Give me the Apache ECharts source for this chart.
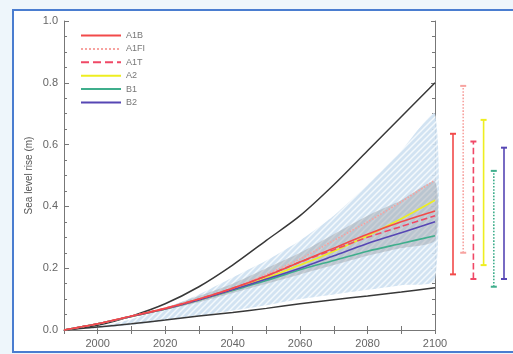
<!DOCTYPE html>
<html><head><meta charset="utf-8">
<script src="https://cdn.jsdelivr.net/npm/echarts@6/dist/echarts.min.js"></script>
<style>html,body{margin:0;padding:0;background:#eef6fb}#c{width:513px;height:354px}</style>
</head><body><div id="c"></div>
<script>
var years = [1990, 2000, 2010, 2020, 2030, 2040, 2050, 2060, 2070, 2080, 2090, 2100];
var outerHigh = [0, 0.015, 0.045, 0.085, 0.14, 0.21, 0.29, 0.37, 0.47, 0.58, 0.69, 0.80];
var outerLow  = [0, 0.01, 0.02, 0.032, 0.045, 0.057, 0.07, 0.085, 0.098, 0.11, 0.123, 0.137];
var blueHigh  = [0, 0.01, 0.035, 0.07, 0.115, 0.17, 0.225, 0.29, 0.37, 0.47, 0.58, 0.70];
var blueLow   = [0, 0.006, 0.016, 0.03, 0.045, 0.063, 0.08, 0.1, 0.115, 0.13, 0.145, 0.16];
var greyHigh  = [0, 0.021, 0.047, 0.073, 0.11, 0.15, 0.2, 0.25, 0.31, 0.37, 0.42, 0.48];
var greyLow   = [0, 0.019, 0.042, 0.065, 0.09, 0.12, 0.15, 0.18, 0.21, 0.24, 0.265, 0.29];

var scenarios = ['A1B', 'A1FI', 'A1T', 'A2', 'B1', 'B2'];
var sA1B  = [0, 0.02, 0.045, 0.07, 0.1, 0.135, 0.175, 0.22, 0.265, 0.31, 0.35, 0.385];
var sA1FI = [0, 0.02, 0.045, 0.07, 0.1, 0.135, 0.18, 0.23, 0.29, 0.35, 0.415, 0.485];
var sA1T  = [0, 0.02, 0.045, 0.07, 0.1, 0.135, 0.175, 0.22, 0.26, 0.3, 0.335, 0.37];
var sA2   = [0, 0.02, 0.044, 0.068, 0.097, 0.13, 0.168, 0.21, 0.255, 0.305, 0.36, 0.42];
var sB1   = [0, 0.02, 0.044, 0.068, 0.096, 0.128, 0.16, 0.195, 0.225, 0.255, 0.28, 0.305];
var sB2   = [0, 0.02, 0.044, 0.068, 0.097, 0.13, 0.165, 0.2, 0.24, 0.28, 0.315, 0.35];

var rangeLow  = [0.18, 0.25, 0.165, 0.21, 0.14, 0.165];
var rangeHigh = [0.635, 0.79, 0.61, 0.68, 0.515, 0.59];

var colors = ['#f24a4a', '#f7a3a0', '#f04866', '#eeee20', '#3fae8c', '#5646b4'];
var dashes = ['solid', 'dotted', 'dashed', 'solid', 'solid', 'solid'];
var barDashes = ['solid', 'dotted', 'dashed', 'solid', 'dotted', 'solid'];
var scenData = [sA1B, sA1FI, sA1T, sA2, sB1, sB2];

function pairs(ys) { return years.map(function (y, i) { return [y, ys[i]]; }); }
function bandData(lo, hi) { return years.map(function (y, i) { return [y, lo[i], hi[i]]; }); }

var cv = document.createElement('canvas'); cv.width = 6; cv.height = 6;
var cx = cv.getContext('2d');
cx.fillStyle = 'rgba(205,224,241,0.9)'; cx.fillRect(0, 0, 6, 6);
cx.strokeStyle = 'rgba(246,250,253,0.95)'; cx.lineWidth = 1.5;
cx.beginPath(); cx.moveTo(-1, 7); cx.lineTo(7, -1); cx.stroke();
cx.beginPath(); cx.moveTo(-4, 4); cx.lineTo(4, -4); cx.stroke();
cx.beginPath(); cx.moveTo(2, 10); cx.lineTo(10, 2); cx.stroke();

function bandSeries(lo, hi, fill) {
  var d = bandData(lo, hi);
  return {
    type: 'custom', silent: true, data: d,
    encode: { x: 0, y: [1, 2] },
    renderItem: function (params, api) {
      if (params.dataIndex !== 0) return null;
      var pts = [];
      for (var i = 0; i < d.length; i++) pts.push(api.coord([d[i][0], d[i][2]]));
      for (var j = d.length - 1; j >= 0; j--) pts.push(api.coord([d[j][0], d[j][1]]));
      return { type: 'polygon', shape: { points: pts, smooth: 0.2 }, style: { fill: fill, stroke: null } };
    }
  };
}

var series = [];
series.push(bandSeries(blueLow, blueHigh, { image: cv, repeat: 'repeat' }));
series.push(bandSeries(greyLow, greyHigh, 'rgba(150,156,162,0.42)'));
series.push({ type: 'line', name: 'outerHigh', data: pairs(outerHigh), symbol: 'none', smooth: 0.3, lineStyle: { color: '#383838', width: 1.5 } });
series.push({ type: 'line', name: 'outerLow', data: pairs(outerLow), symbol: 'none', smooth: 0.3, lineStyle: { color: '#383838', width: 1.5 } });
var order = [1, 4, 3, 5, 2, 0];
order.forEach(function (i) {
  series.push({ type: 'line', name: scenarios[i], data: pairs(scenData[i]), symbol: 'none', smooth: 0.3,
    lineStyle: { color: colors[i], width: 1.6, type: dashes[i] }, itemStyle: { color: colors[i] } });
});
scenarios.forEach(function (s, i) {
  series.push({ type: 'line', name: s + ' range', xAxisIndex: 2, yAxisIndex: 2,
    data: [[i, rangeLow[i]], [i, rangeHigh[i]]], symbol: 'rect', symbolSize: [6, 2],
    lineStyle: { color: colors[i], width: 1.6, type: barDashes[i] }, itemStyle: { color: colors[i] } });
});

var axisCol = '#777';
var chart = echarts.init(document.getElementById('c'), null, { renderer: 'canvas' });
chart.setOption({
  animation: false,
  backgroundColor: '#eef6fb',
  graphic: [{ type: 'rect', z: -100, shape: { x: 13, y: 10, width: 520, height: 342 },
    style: { fill: '#ffffff', stroke: '#4a7dd0', lineWidth: 2 } }],
  legend: {
    data: scenarios, orient: 'vertical', left: 80, top: 31, padding: 0, itemWidth: 40, itemHeight: 8, itemGap: 4.4,
    itemStyle: { opacity: 0 },
    textStyle: { fontSize: 9, color: '#777', fontFamily: 'Liberation Sans' }
  },
  grid: [
    { left: 64, right: 78, top: 21, bottom: 24 },
    { left: 453, right: 9, top: 21, bottom: 24 }
  ],
  xAxis: [
    { type: 'value', gridIndex: 0, min: 1990, max: 2100, interval: 10, position: 'bottom',
      axisLine: { lineStyle: { color: axisCol, width: 1 } },
      axisTick: { inside: true, length: 4, lineStyle: { color: axisCol } },
      splitLine: { show: false },
      axisLabel: { color: '#666', fontSize: 11, margin: 8, fontFamily: 'Liberation Sans',
        formatter: function (v) { return ((v - 2000) % 20 === 0) ? String(v) : ''; } } },
    { type: 'value', gridIndex: 0, min: 1990, max: 2100, interval: 10, position: 'top',
      axisLine: { lineStyle: { color: axisCol, width: 1 } },
      axisTick: { inside: true, length: 4, lineStyle: { color: axisCol } },
      splitLine: { show: false }, axisLabel: { show: false } },
    { type: 'value', gridIndex: 1, min: 0, max: 5, show: false }
  ],
  yAxis: [
    { type: 'value', gridIndex: 0, min: 0, max: 1, interval: 0.2, position: 'left',
      name: 'Sea level rise (m)', nameLocation: 'middle', nameGap: 30, nameMoveOverlap: false,
      nameTextStyle: { color: '#555', fontSize: 10, fontFamily: 'Liberation Sans' },
      axisLine: { show: true, lineStyle: { color: axisCol, width: 1 } },
      axisTick: { inside: true, length: 5, lineStyle: { color: axisCol } },
      minorTick: { show: true, splitNumber: 4, length: 3, lineStyle: { color: axisCol } },
      splitLine: { show: false },
      axisLabel: { color: '#666', fontSize: 11, margin: 6, fontFamily: 'Liberation Sans',
        formatter: function (v) { return v.toFixed(1); } } },
    { type: 'value', gridIndex: 0, min: 0, max: 1, interval: 0.2, position: 'right',
      axisLine: { show: true, lineStyle: { color: axisCol, width: 1 } },
      axisTick: { inside: true, length: 4, lineStyle: { color: axisCol } },
      minorTick: { show: true, splitNumber: 4, length: 3, lineStyle: { color: axisCol } },
      splitLine: { show: false }, axisLabel: { show: false } },
    { type: 'value', gridIndex: 1, min: 0, max: 1, show: false }
  ],
  series: series
});
</script></body></html>
